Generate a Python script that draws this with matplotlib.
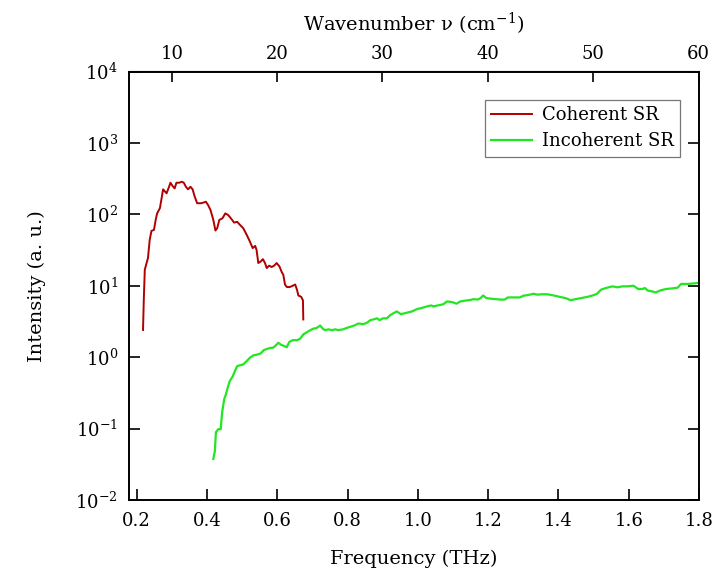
import numpy as np
import matplotlib
matplotlib.use("Agg")
import matplotlib.pyplot as plt
from matplotlib.ticker import LogLocator, LogFormatterMathtext, NullLocator

# --- data -----------------------------------------------------------------
coh_freq = [0.218, 0.220, 0.223, 0.232, 0.237, 0.242, 0.249, 0.254, 0.258, 0.266,
            0.270, 0.275, 0.285, 0.292, 0.296, 0.302, 0.308, 0.313, 0.321, 0.328,
            0.334, 0.340, 0.346, 0.353, 0.359, 0.365, 0.372, 0.384, 0.397, 0.403,
            0.410, 0.418, 0.424, 0.429, 0.435, 0.444, 0.452, 0.460, 0.470, 0.477,
            0.486, 0.494, 0.503, 0.513, 0.522, 0.530, 0.537, 0.541, 0.546, 0.553,
            0.559, 0.565, 0.570, 0.577, 0.584, 0.591, 0.598, 0.606, 0.613, 0.617,
            0.622, 0.627, 0.636, 0.644, 0.651, 0.656, 0.660, 0.668, 0.673, 0.674]
coh_int = [2.4, 6.1, 16.8, 24.4, 44, 58.7, 60.5, 83.5, 103, 122,
           159, 224, 197, 243, 277, 249, 231, 277, 277, 286,
           277, 243, 224, 243, 224, 177, 143, 143, 150, 135,
           115, 83.5, 59.3, 64, 83.5, 88, 103, 98, 85.5, 76.6,
           78.5, 71, 64, 51.6, 41.6, 33.6, 36.2, 31.8, 20.8, 21.9,
           23.6, 20.8, 17.7, 19.1, 18.3, 19.1, 20.8, 18.7, 15.4, 14.3,
           10.4, 9.6, 9.6, 10.0, 10.4, 8.8, 7.3, 7.0, 6.25, 3.37]

inc_freq = [0.418, 0.4225, 0.4253, 0.432, 0.439, 0.443, 0.449, 0.454, 0.459, 0.465,
            0.473, 0.4795, 0.486, 0.494, 0.503, 0.513, 0.522, 0.532, 0.541, 0.553,
            0.562, 0.572, 0.580, 0.587, 0.594, 0.603, 0.610, 0.619, 0.627, 0.634,
            0.644, 0.656, 0.665, 0.674, 0.689, 0.701, 0.7125, 0.722, 0.730, 0.736,
            0.746, 0.755, 0.765, 0.774, 0.787, 0.798, 0.8075, 0.819, 0.831, 0.845,
            0.855, 0.865, 0.876, 0.884, 0.891, 0.901, 0.912, 0.922, 0.940, 0.952,
            0.969, 0.9835, 0.998, 1.012, 1.026, 1.038, 1.045, 1.059, 1.072, 1.083,
            1.098, 1.110, 1.121, 1.1355, 1.148, 1.159, 1.171, 1.178, 1.186, 1.195,
            1.207, 1.221, 1.235, 1.247, 1.256, 1.273, 1.290, 1.300, 1.313, 1.329,
            1.340, 1.354, 1.368, 1.387, 1.406, 1.421, 1.435, 1.449, 1.4635, 1.483,
            1.501, 1.511, 1.521, 1.535, 1.554, 1.568, 1.582, 1.596, 1.6135, 1.627,
            1.639, 1.646, 1.6535, 1.668, 1.677, 1.690, 1.706, 1.725, 1.7395, 1.749,
            1.768, 1.787, 1.800]
inc_int = [0.0376, 0.049, 0.0885, 0.098, 0.098, 0.168, 0.258, 0.303, 0.376, 0.465,
           0.535, 0.64, 0.75, 0.77, 0.79, 0.88, 0.98, 1.06, 1.08, 1.13,
           1.26, 1.31, 1.35, 1.35, 1.43, 1.59, 1.5, 1.43, 1.38, 1.63,
           1.73, 1.73, 1.81, 2.08, 2.31, 2.49, 2.57, 2.77, 2.49, 2.39,
           2.45, 2.39, 2.45, 2.39, 2.45, 2.57, 2.66, 2.77, 2.96, 2.9,
           3.03, 3.3, 3.4, 3.5, 3.3, 3.5, 3.5, 3.9, 4.37, 4.0,
           4.2, 4.37, 4.72, 4.9, 5.14, 5.3, 5.14, 5.33, 5.5, 6.03,
           5.9, 5.6, 6.03, 6.2, 6.3, 6.5, 6.4, 6.7, 7.3, 6.7,
           6.6, 6.5, 6.4, 6.4, 6.86, 6.86, 6.86, 7.24, 7.4, 7.72,
           7.5, 7.6, 7.6, 7.3, 6.95, 6.7, 6.27, 6.5, 6.7, 7.0,
           7.4, 7.8, 8.8, 9.3, 9.8, 9.5, 9.8, 9.8, 10.0, 9.0,
           9.0, 9.3, 8.6, 8.3, 8.05, 8.6, 9.0, 9.2, 9.4, 10.6,
           10.6, 10.8, 11.0]

freq_ticks = [0.2, 0.4, 0.6, 0.8, 1.0, 1.2, 1.4, 1.6, 1.8]
wn_ticks = [10, 20, 30, 40, 50, 60]
THZ_TO_CM = 33.356  # 1 THz in cm^-1

# --- style ------------------------------------------------------------------
plt.rcParams['font.family'] = ['DejaVu Serif']
plt.rcParams['mathtext.fontset'] = 'dejavuserif'

fig = plt.figure(figsize=(7.23, 5.72), dpi=100)
ax = fig.add_axes([0.1784, 0.1259, 0.7884, 0.7491])

ax.plot(coh_freq, coh_int, color='#b00000', lw=1.4, label='Coherent SR')
ax.plot(inc_freq, inc_int, color='#22e622', lw=1.6, label='Incoherent SR')

ax.set_yscale('log')
ax.set_ylim(1e-2, 1e4)
ax.set_xlim(0.178, 1.8)
ax.yaxis.set_major_locator(LogLocator(base=10, numticks=10))
ax.yaxis.set_major_formatter(LogFormatterMathtext())
ax.yaxis.set_minor_locator(NullLocator())
ax.set_xticks(freq_ticks)
ax.set_xticklabels([f'{v:.1f}' for v in freq_ticks])

ax.tick_params(axis='both', which='major', direction='in', length=8, width=1.2,
               labelsize=13)
ax.tick_params(axis='x', pad=9)
ax.tick_params(axis='y', right=True, pad=8)
for s in ax.spines.values():
    s.set_linewidth(1.4)

ax.set_xlabel('Frequency (THz)', fontsize=14, labelpad=14)
ax.set_ylabel('Intensity (a. u.)', fontsize=14, labelpad=21)

# top axis: wavenumber
top = ax.secondary_xaxis('top', functions=(lambda f: f * THZ_TO_CM,
                                           lambda w: w / THZ_TO_CM))
top.set_xticks(wn_ticks)
top.tick_params(direction='in', length=8, width=1.2, labelsize=13, pad=6)
top.set_xlabel('Wavenumber ν (cm$^{-1}$)', fontsize=14, labelpad=10)

leg = ax.legend(loc='upper right', fontsize=13, frameon=True, fancybox=False,
                edgecolor='#555555', handlelength=2.3, borderpad=0.35,
                labelspacing=0.45, handletextpad=0.5,
                bbox_to_anchor=(0.982, 0.955))
leg.get_frame().set_linewidth(0.9)

fig.savefig('out.png', dpi=100)
